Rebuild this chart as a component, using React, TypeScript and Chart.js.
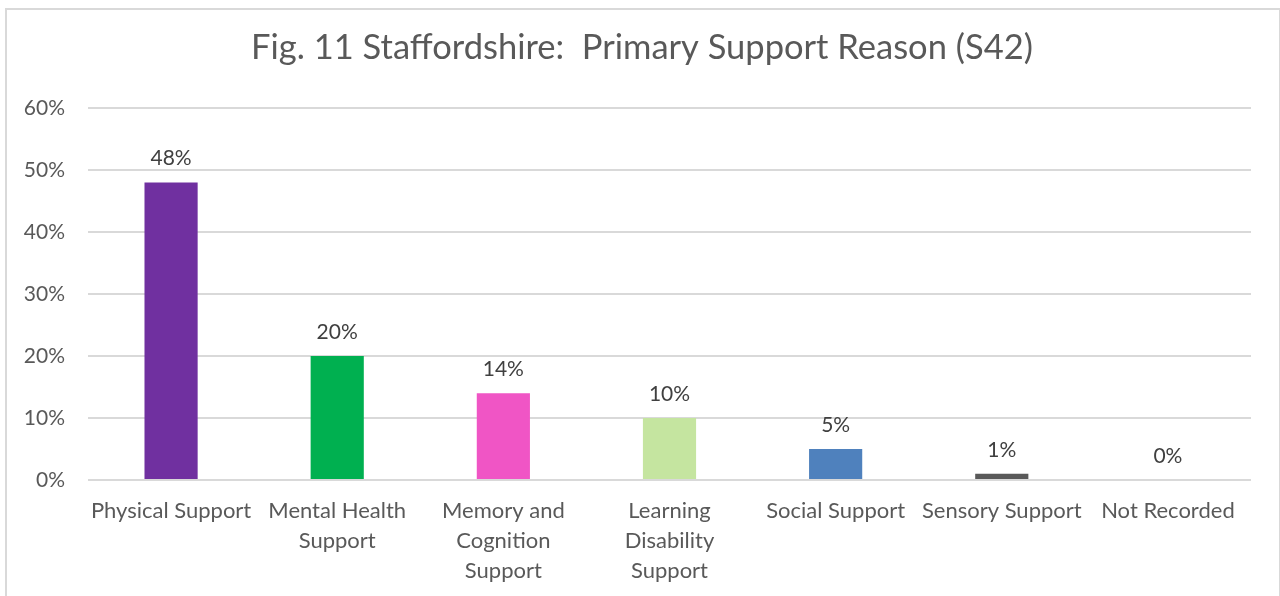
import React, { useEffect, useRef } from "react";
import { Chart, registerables } from "chart.js";

Chart.register(...registerables);

const TITLE = "Fig. 11 Staffordshire:  Primary Support Reason (S42)";
const categories: (string | string[])[] = [
  "Physical Support",
  ["Mental Health", "Support"],
  ["Memory and", "Cognition", "Support"],
  ["Learning", "Disability", "Support"],
  "Social Support",
  "Sensory Support",
  "Not Recorded",
];
const values = [48, 20, 14, 10, 5, 1, 0];
const barColors = ["#7030A0", "#00B050", "#F055C5", "#C5E5A0", "#4F81BD", "#595959", "#A5A5A5"];
const yTickMax = 60;
const yTickStep = 10;

const FONT = "Lato, 'Open Sans', sans-serif";
const TEXT = "#595959";

const borderPlugin = {
  id: "outerBorder",
  beforeDraw(chart: any) {
    const ctx = chart.ctx;
    ctx.save();
    ctx.fillStyle = "#ffffff";
    ctx.fillRect(0, 0, chart.width, chart.height);
    ctx.strokeStyle = "#D9D9D9";
    ctx.lineWidth = 2;
    ctx.strokeRect(6, 9, chart.width - 6, chart.height + 20);
    ctx.restore();
  },
  afterDraw(chart: any) {
    const ctx = chart.ctx;
    ctx.save();
    ctx.font = `34.5px ${FONT}`;
    ctx.fillStyle = TEXT;
    ctx.textAlign = "center";
    ctx.textBaseline = "middle";
    ctx.fillText(TITLE, 642, 48);
    ctx.restore();
  },
};

const labelPlugin = {
  id: "valueLabels",
  afterDatasetsDraw(chart: any) {
    const ctx = chart.ctx;
    const meta = chart.getDatasetMeta(0);
    const data = chart.data.datasets[0].data as number[];
    ctx.save();
    ctx.font = `21px ${FONT}`;
    ctx.fillStyle = "#404040";
    ctx.textAlign = "center";
    ctx.textBaseline = "middle";
    meta.data.forEach((el: any, i: number) => {
      ctx.fillText(`${data[i]}%`, el.x, el.y - 24);
    });
    ctx.restore();
  },
};

export default function App() {
  const ref = useRef<HTMLCanvasElement>(null);
  useEffect(() => {
    if (!ref.current) return;
    const chart = new Chart(ref.current, {
      type: "bar",
      data: {
        labels: categories,
        datasets: [
          {
            data: values,
            backgroundColor: barColors,
            barPercentage: 0.32,
            categoryPercentage: 1,
          },
        ],
      },
      options: {
        animation: false,
        responsive: false,
        maintainAspectRatio: false,
        layout: { padding: { left: 8, right: 29, top: 108, bottom: 0 } },
        plugins: {
          legend: { display: false },
          tooltip: { enabled: false },
          title: { display: false },
        },
        scales: {
          x: {
            grid: { display: false },
            border: { display: false },
            ticks: {
              color: TEXT,
              font: { family: FONT, size: 22, lineHeight: 1.36 },
              padding: 8,
              maxRotation: 0,
              autoSkip: false,
            },
            afterFit(scale: any) {
              scale.height = 116;
            },
          },
          y: {
            min: 0,
            max: yTickMax,
            border: { display: false },
            grid: { color: "#D9D9D9", lineWidth: 2, drawTicks: false },
            ticks: {
              stepSize: yTickStep,
              color: TEXT,
              font: { family: FONT, size: 21 },
              padding: 23,
              callback: (v: any) => `${v}%`,
            },
            afterFit(scale: any) {
              scale.width = 80;
            },
          },
        },
      },
      plugins: [borderPlugin, labelPlugin],
    });
    return () => chart.destroy();
  }, []);
  return (
    <div style={{ position: "fixed", left: 0, top: 0, width: 1280, height: 596 }}>
      <canvas ref={ref} width={1280} height={596} style={{ display: "block" }} />
    </div>
  );
}
